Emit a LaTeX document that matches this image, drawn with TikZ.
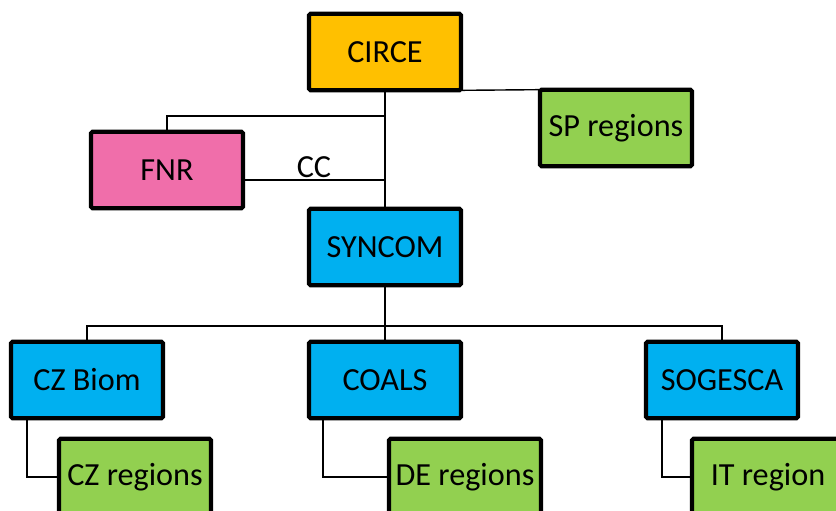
\documentclass[tikz,border=0pt]{standalone}
\usepackage{fontspec}
\setmainfont{Carlito}
\usetikzlibrary{calc}
\definecolor{circeorange}{RGB}{255,192,0}
\definecolor{regiongreen}{RGB}{146,208,80}
\definecolor{fnrpink}{RGB}{240,110,170}
\definecolor{projblue}{RGB}{0,176,240}
\begin{document}
\begin{tikzpicture}[x=0.03cm, y=-0.03cm,
    box/.style = {draw, line width=3.6pt, rounded corners=1.5pt, minimum width=4.56cm, minimum height=2.3cm, inner sep=0pt, outer sep=0pt, font=\fontsize{27.5}{32}\selectfont},
    link/.style = {line width=1.2pt},
    trunk/.style = {line width=2.2pt}]
    \useasboundingbox (0,0) rectangle (836,511);
    \clip (0,0) rectangle (836,511);
    % boxes
    \node[box, fill=circeorange] (circe) at (385,52) {CIRCE};
    \node[box, fill=regiongreen] (sp) at (616,128) {SP regions};
    \node[box, fill=fnrpink] (fnr) at (167,170) {FNR};
    \node[box, fill=projblue] (syncom) at (385,247) {SYNCOM};
    \node[box, fill=projblue] (czbiom) at (87,380) {CZ Biom};
    \node[box, fill=projblue] (coals) at (385,380) {COALS};
    \node[box, fill=projblue] (sogesca) at (722,380) {SOGESCA};
    \node[box, fill=regiongreen] (czreg) at (135,477) {CZ regions};
    \node[box, fill=regiongreen] (dereg) at (465,477) {DE regions};
    \node[box, fill=regiongreen] (itreg) at (768,477) {IT region};
    
    \coordinate (fnrjoin) at (385,116);
    \coordinate (ccjoin) at (385,180);
    \coordinate (bus) at (385,326);
    
    \draw[trunk] (circe.south) -- (syncom.north);
    \draw[link] (circe.south east) -- (sp.north west);
    \draw[link] (fnr.north) |- (fnrjoin);
    \draw[link] (ccjoin) -- (ccjoin -| fnr.east) node[midway, above, font=\fontsize{27.5}{32}\selectfont, inner sep=1pt] {CC};
    \draw[trunk] (syncom.south) -- (coals.north);
    \draw[link] (czbiom.north) |- (bus) -| (sogesca.north);
    
    \draw[link] ($(czbiom.south west)+(16,0)$) |- (czreg.west);
    \draw[link] ($(coals.south west)+(14,0)$) |- (dereg.west);
    \draw[link] ($(sogesca.south west)+(16,0)$) |- (itreg.west);
\end{tikzpicture}
\end{document}
